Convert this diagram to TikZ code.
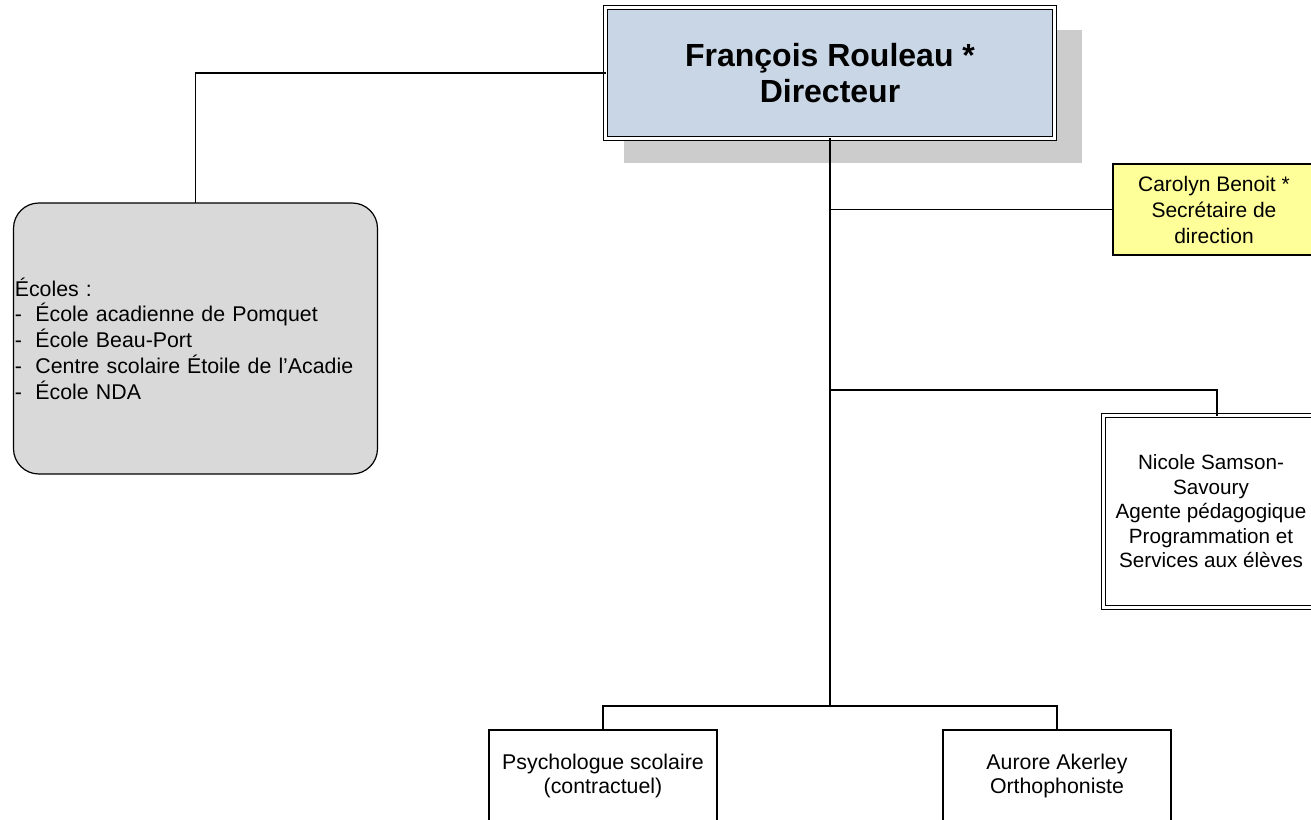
\documentclass[tikz,border=0pt]{standalone}
\usepackage{fontspec}
\setmainfont{Liberation Sans}
\usetikzlibrary{shadows}
\definecolor{dirblue}{HTML}{C9D6E6}
\definecolor{shadowgray}{HTML}{CCCCCC}
\definecolor{ecolegray}{HTML}{D9D9D9}
\definecolor{secyellow}{HTML}{FFFF99}
\newcommand{\tiret}{\makebox[15.5pt][l]{-}}

\begin{document}
\begin{tikzpicture}[x=0.75pt,y=-0.75pt,
    every node/.style={align=center, inner sep=0pt, outer sep=0pt},
    wire/.style={draw=black, line width=1.1pt},
    chef/.style={draw, fill=dirblue, double, double distance=2.25pt, line width=0.75pt,
        minimum width=336.75pt, minimum height=98.25pt,
        font=\bfseries\fontsize{24}{27.5}\selectfont,
        drop shadow={shadow xshift=17.25pt, shadow yshift=-17.25pt, shadow scale=1.02,
            opacity=1, fill=shadowgray}},
    ecoles/.style={draw, fill=ecolegray, line width=0.9pt, rounded corners=19pt,
        align=left, text width=271pt, inner xsep=1pt, minimum height=203.25pt,
        font=\fontsize{16}{19.3}\selectfont},
    secr/.style={draw, fill=secyellow, line width=0.9pt,
        minimum width=151.5pt, minimum height=68.25pt,
        font=\fontsize{15.75}{19.5}\selectfont},
    agent/.style={draw, fill=white, double, double distance=2.25pt, line width=0.75pt,
        minimum width=170.25pt, minimum height=144pt},
    staff/.style={draw, fill=white, line width=0.9pt,
        minimum width=171pt, minimum height=69pt,
        font=\fontsize{16}{17.5}\selectfont}]

    \useasboundingbox (0,0) rectangle (1311,820);
    \clip (0,0) rectangle (1311,820);

    \node (1) [chef] at (830,73) {François Rouleau *\\Directeur};
    \node (2) [ecoles] at (195.5,338.5) {Écoles :\\
        \tiret École acadienne de Pomquet\\
        \tiret École Beau-Port\\
        \tiret Centre scolaire Étoile de l’Acadie\\
        \tiret École NDA};
    \node (3) [secr] at (1214,209.5) {Carolyn Benoit *\\Secrétaire de\\direction};
    \node (4) [agent, label={[xshift=-4.5pt, align=center,
        font=\fontsize{15.5}{18.4}\selectfont]center:{Nicole Samson-\\Savoury\\Agente pédagogique\\Programmation et\\Services aux élèves}}]
        at (1217,511.5) {};
    \node (5) [staff] at (603,776) {Psychologue scolaire\\(contractuel)};
    \node (6) [staff] at (1057,776) {Aurore Akerley\\Orthophoniste};

    \coordinate (k) at (830,390);
    \coordinate (j) at (830,706);

    % liens
    \draw[wire] (1.west) -| (2.north);
    \draw[wire] (1.south) -- (j);
    \draw[wire] (1.south |- 3.west) -- (3.west);
    \draw[wire] (k) -| (4.north);
    \draw[wire] (j) -| (5.north);
    \draw[wire] (j) -| (6.north);
\end{tikzpicture}
\end{document}
